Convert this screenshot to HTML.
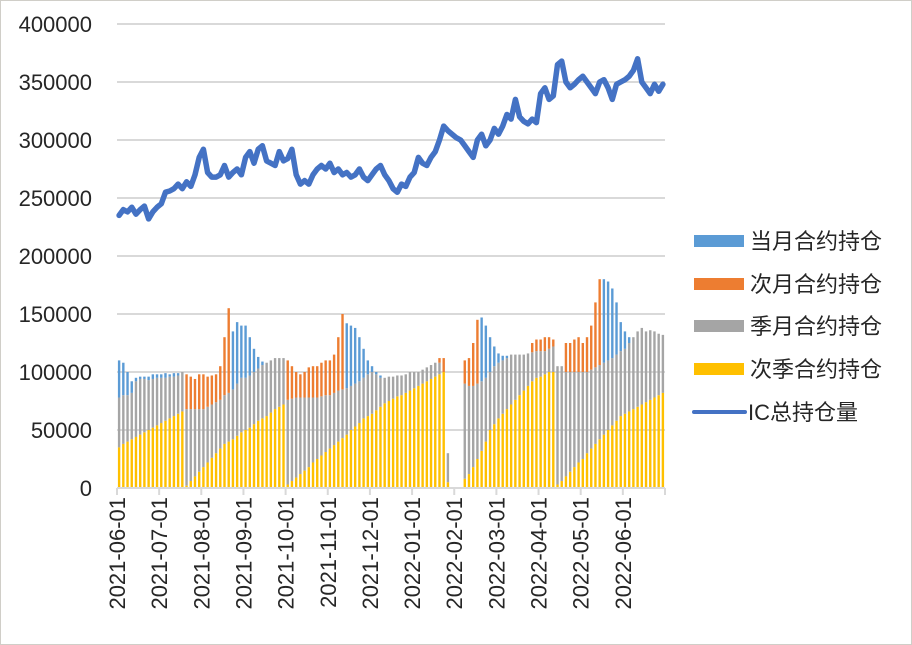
<!DOCTYPE html>
<html><head><meta charset="utf-8"><style>
html,body{margin:0;padding:0;background:#fff}
svg{display:block}
text{font-family:"Liberation Sans","Noto Sans CJK SC",sans-serif;fill:#262626}
</style></head><body>
<svg id="chart" width="912" height="645" viewBox="0 0 912 645">
<rect x="0.5" y="0.5" width="911" height="644" fill="#fff" stroke="#d0cec8"/>
<g id="grid"></g>
<g id="bars"></g>
<g id="axes"></g>
<g id="lineg"></g>
<g id="legend">
 <g><rect x="694" y="235" width="50" height="12" fill="#5B9BD5"/><text x="750" y="249" font-size="22">当月合约持仓</text></g>
 <g><rect x="694" y="278" width="50" height="12" fill="#ED7D31"/><text x="750" y="292" font-size="22">次月合约持仓</text></g>
 <g><rect x="694" y="320" width="50" height="12" fill="#A5A5A5"/><text x="750" y="334" font-size="22">季月合约持仓</text></g>
 <g><rect x="694" y="363" width="50" height="12" fill="#FFC000"/><text x="750" y="377" font-size="22">次季合约持仓</text></g>
 <g><line x1="694" y1="412" x2="745" y2="412" stroke="#4472C4" stroke-width="4" stroke-linecap="round"/><text x="748" y="420" font-size="22">IC总持仓量</text></g>
</g>
</svg>
<script>
const monthLabels=["2021-06-01","2021-07-01","2021-08-01","2021-09-01","2021-10-01","2021-11-01","2021-12-01","2022-01-01","2022-02-01","2022-03-01","2022-04-01","2022-05-01","2022-06-01"];
const yTicks=[0,50000,100000,150000,200000,250000,300000,350000,400000];
// values in thousands
const nextQuarter=[35,38,40,42,44,46,48,50,52,54, 56,58,60,62,64,66,2,6,10,14, 18,22,26,30,34,38,40,42,45,48, 50,52,55,58,60,62,65,68,70,72, 3,6,9,12,15,18,22,25,28,31, 34,37,40,43,46,50,53,56,60,62, 64,67,70,73,75,77,79,80,82,84, 86,88,90,92,94,96,98,100,5,0, 0,0,8,12,18,25,32,40,50,55, 60,64,68,72,76,80,84,88,92,95, 96,98,100,100,3,6,10,14,18,22, 25,30,34,38,42,46,50,54,58,62, 64,66,68,70,72,74,76,78,80,82];
const quarterMonth=[43,42,40,40,48,48,46,43,42,41, 39,37,36,34,33,34,66,62,58,54, 50,48,46,44,42,42,42,43,45,47, 45,45,45,45,46,46,45,44,42,40, 73,71,69,66,63,60,56,53,51,49, 46,45,44,42,40,38,37,36,35,36, 36,31,25,22,21,19,18,17,16,16, 14,12,12,12,12,12,10,0,25,0, 0,0,82,76,70,65,60,55,50,50, 48,46,44,43,39,35,31,28,25,23, 22,20,20,22,102,99,90,86,82,78, 75,70,68,66,64,62,60,58,57,56, 56,59,62,65,66,61,60,57,53,50];
const nextMonth=[0,0,0,0,0,0,0,0,0,0, 0,0,0,0,0,0,30,28,26,30, 30,26,25,24,29,50,73,0,0,0, 0,0,0,0,0,0,0,0,0,0, 34,28,22,20,22,26,27,27,29,30, 30,33,46,65,0,0,0,0,0,0, 0,0,0,0,0,0,0,0,0,0, 0,0,0,0,0,0,4,12,0,0, 0,0,20,24,37,55,0,0,0,0, 0,0,0,0,0,0,0,0,8,10, 10,12,10,6,0,0,25,25,28,30, 25,30,38,56,74,0,0,0,0,0, 0,0,0,0,0,0,0,0,0,0];
const currentMonth=[32,28,20,10,3,2,2,3,4,3, 3,4,2,3,2,0,0,0,0,0, 0,0,0,0,0,0,0,50,53,45, 45,33,20,10,3,0,0,0,0,0, 0,0,0,0,0,0,0,0,0,0, 0,0,0,0,56,52,48,38,25,12, 5,2,2,0,0,0,0,0,0,0, 0,0,0,0,0,0,0,0,0,0, 0,0,0,0,0,0,55,45,30,17, 8,4,2,0,0,0,0,0,0,0, 0,0,0,0,0,0,0,0,0,0, 0,0,0,0,0,72,68,60,45,25, 15,5,0,0,0,0,0,0,0,0];
const icTotal=[235,240,238,242,236,240,243,232,238,242, 245,255,256,258,262,258,264,260,270,285, 292,272,268,268,270,278,268,272,275,270, 285,290,280,292,295,282,280,278,290,282, 284,292,270,262,265,262,270,275,278,275, 280,272,275,270,272,268,270,275,268,265, 270,275,278,270,265,258,255,262,260,268, 272,285,280,278,285,290,300,312,308,305, 302,300,295,290,285,300,305,295,300,310, 305,312,322,318,335,320,316,314,318,315, 340,345,335,338,365,368,350,345,348,352, 355,350,345,340,350,352,345,335,348,350, 352,355,360,370,350,345,340,348,342,348];

const NS='http://www.w3.org/2000/svg';
const X0=117,X1=665,Y0=488,YT=24,VMAX=400;
const N=nextQuarter.length;
const step=(X1-X0)/N;
function xs(i){return X0+(i+0.5)*step;}
function ys(v){return Y0-(v/VMAX)*(Y0-YT);}
function mk(tag,attrs,parent){const e=document.createElementNS(NS,tag);for(const k in attrs)e.setAttribute(k,attrs[k]);parent.appendChild(e);return e;}
const grid=document.getElementById('grid'),bars=document.getElementById('bars'),axes=document.getElementById('axes'),lineg=document.getElementById('lineg');
yTicks.forEach(t=>{
  const y=ys(t/1000);
  if(t>0){const l=mk('line',{x1:X0,x2:X1,y1:y,y2:y,stroke:'#d9d9d9','stroke-width':2},grid);
  
  }
  const tx=mk('text',{x:92,y:y+8,'text-anchor':'end','font-size':22},axes);
  tx.textContent=String(t);
  
  
});
const series=[[nextQuarter,'#FFC000','bar-next-quarter'],[quarterMonth,'#A5A5A5','bar-quarter-month'],[nextMonth,'#ED7D31','bar-next-month'],[currentMonth,'#5B9BD5','bar-current-month']];
for(let i=0;i<N;i++){
  let base=0;
  series.forEach(s=>{
    const v=s[0][i];
    if(v>0){
      const r=mk('rect',{x:xs(i)-1.2,width:2.4,y:ys(base+v),height:ys(base)-ys(base+v),fill:s[1]},bars);
      
      
    }
    base+=v;
  });
}
const ax=mk('line',{x1:X0,x2:X1,y1:Y0,y2:Y0,stroke:'#d9d9d9','stroke-width':2},axes);


for(let m=0;m<=monthLabels.length;m++){
  const x=X0+m*10*step;
  const tk=mk('line',{x1:x,x2:x,y1:Y0,y2:Y0+7,stroke:'#d9d9d9','stroke-width':2},axes);
  
  
  if(m<monthLabels.length){
    const t=mk('text',{'text-anchor':'end','font-size':22,transform:'translate('+(x+8)+',497) rotate(-90)'},axes);
    t.textContent=monthLabels[m];
    
    
  }
}
const pts=icTotal.map((v,i)=>xs(i).toFixed(1)+','+ys(v).toFixed(1)).join(' ');
const pl=mk('polyline',{points:pts,fill:'none',stroke:'#4472C4','stroke-width':5.5,'stroke-linejoin':'round','stroke-linecap':'round'},lineg);


</script>
</body></html>
